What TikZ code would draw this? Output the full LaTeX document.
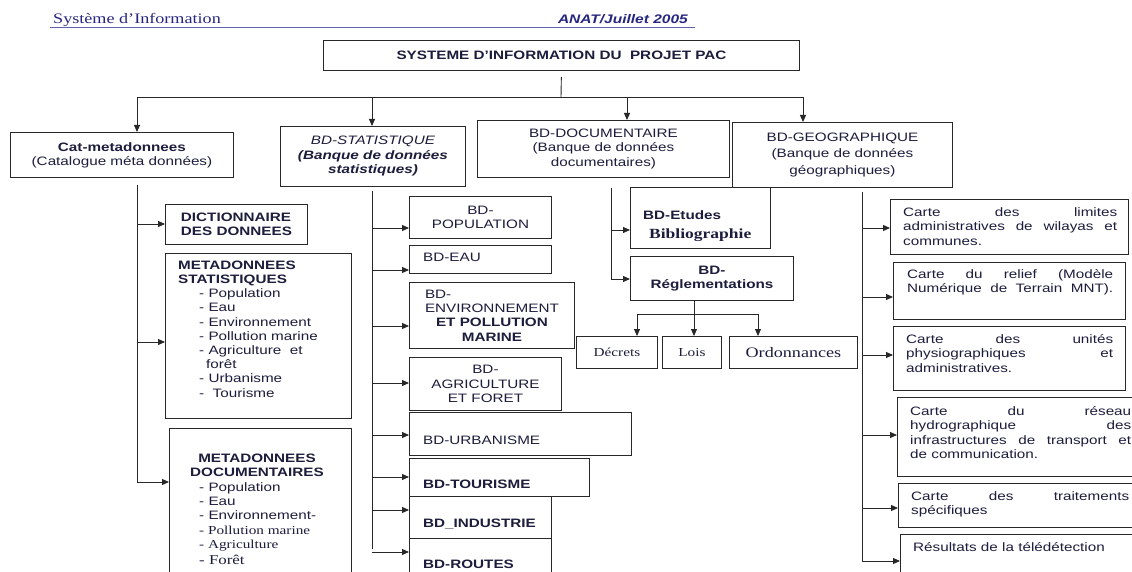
\documentclass[tikz,border=0pt]{standalone}
\usepackage{fontspec}
\setmainfont{Liberation Sans}[FakeStretch=1.25]
\newfontfamily\tms{Liberation Serif}[FakeStretch=1.25]
\usetikzlibrary{arrows.meta}
\definecolor{encre}{RGB}{28,28,60}
\definecolor{entete}{RGB}{38,38,128}
\definecolor{soulign}{RGB}{96,96,176}
\definecolor{trait}{RGB}{40,40,40}
\newcommand{\taille}{\fontsize{12.2}{14.2}\selectfont}
\tikzset{
  cadre/.style={draw=trait,line width=0.9pt,anchor=north west,inner sep=2pt,text=encre,align=center},
  txt/.style={inner sep=0pt,text=encre},
  just/.style={txt,anchor=north west,align=justify,font={\taille\hyphenpenalty=10000\tolerance=9999}},
  plein/.style={just,font={\taille\hyphenpenalty=10000\tolerance=9999\parfillskip=0pt}},
  bus/.style={draw=trait,line width=0.9pt},
  fleche/.style={bus,-{Triangle[length=7pt,width=6pt]}},
}
\begin{document}
\begin{tikzpicture}[x=1pt,y=-1pt,font=\taille]
\path[use as bounding box] (0,0) rectangle (1132,572);
\clip (0,0) rectangle (1132,572);

\node[txt,anchor=base west,text=entete,font=\tms\fontsize{14.5}{16}\selectfont] (hg) at (53,24) {Système d’Information};
\node[txt,anchor=base east,text=entete,font=\bfseries\itshape\fontsize{12.4}{14}\selectfont] (hd) at (688,24) {ANAT/Juillet 2005};
\draw[soulign,line width=1pt] (50,27.5) -- (695,27.5);

\node[cadre,minimum width=476,minimum height=30,font=\bfseries\taille] (titre) at (323,40) {SYSTEME D'INFORMATION DU\ \ PROJET PAC};
\coordinate (j0) at (561,97);
\coordinate (jc) at (137,97);
\coordinate (js) at (372,97);
\coordinate (jd) at (627,97);
\coordinate (jg) at (803,97);
\draw[bus,shorten <=6pt] (titre.south) -- (j0);
\draw[bus] (jc) -- (jg);

\node[cadre,minimum width=223,minimum height=45] (cat) at (10,132) {\textbf{Cat-metadonnees}\\(Catalogue méta données)};
\node[cadre,minimum width=185,minimum height=60,font=\itshape\fontsize{12.2}{14.5}\selectfont] (stat) at (280,126) {BD-STATISTIQUE\\\textbf{(Banque de données}\\\textbf{statistiques)}};
\node[cadre,minimum width=252,minimum height=57] (doc) at (477,120) {BD-DOCUMENTAIRE\\(Banque de données\\documentaires)};
\node[cadre,minimum width=220,minimum height=65,font=\fontsize{12.2}{16.5}\selectfont] (geo) at (732,122) {BD-GEOGRAPHIQUE\\(Banque de données\\géographiques)};
\foreach \j/\b in {jc/cat,js/stat,jd/doc,jg/geo}
  \draw[fleche] (\j) -- (\j |- \b.north);

% catalogue
\coordinate (c0) at (137,185);
\coordinate (c1) at (137,483);
\draw[bus] (c0) -- (c1);
\node[cadre,minimum width=142,minimum height=40,align=left,font=\bfseries\taille] (dict) at (165,204) {DICTIONNAIRE\\DES DONNEES};
\node[cadre,minimum width=186,minimum height=165] (metst) at (165,253) {};
\node[txt,anchor=north west,align=left] (metst-t) at (178,260.5) {\textbf{METADONNEES}\\\textbf{STATISTIQUES}\\
  \hspace*{21pt}- Population\\\hspace*{21pt}- Eau\\\hspace*{21pt}- Environnement\\\hspace*{21pt}- Pollution marine\\
  \hspace*{21pt}- Agriculture\ \ et\\\hspace*{28pt}forêt\\\hspace*{21pt}- Urbanisme\\\hspace*{21pt}-\ \ Tourisme};
\node[cadre,minimum width=182,minimum height=170] (metdoc) at (169,428) {};
\node[txt,anchor=north,align=center,font=\bfseries\taille] (metdoc-h) at (257,453.5) {METADONNEES\\DOCUMENTAIRES};
\node[txt,anchor=north west,align=left] (metdoc-t) at (199,482.5) {- Population\\- Eau\\- Environnement-\\
  {\tms - Pollution marine}\\{\tms - Agriculture}\\[1.5pt]{\tms\fontsize{13.5}{15}\selectfont - Forêt}};
\foreach \b/\yy in {dict/224,metst/342,metdoc/482} {
  \coordinate (cb) at (137,\yy);
  \draw[fleche] (cb) -- (cb -| \b.west);
}

% statistique
\coordinate (s0) at (372,191);
\coordinate (s1) at (372,549);
\draw[bus] (s0) -- (s1);
\node[cadre,minimum width=142,minimum height=42] (pop) at (409,196) {BD-\\POPULATION};
\node[cadre,minimum width=142,minimum height=28] (eau) at (409,245) {};
\node[txt,anchor=base west] (eau-t) at (423,261.4) {BD-EAU};
\node[cadre,minimum width=165,minimum height=66] (env) at (409,282) {\rlap{BD-}\phantom{ENVIRONNEMENT}\\ENVIRONNEMENT\\\textbf{ET POLLUTION}\\\textbf{MARINE}};
\node[cadre,minimum width=152,minimum height=53] (agri) at (409,357) {BD-\\AGRICULTURE\\ET FORET};
\node[cadre,minimum width=222,minimum height=43] (urb) at (409,412) {};
\node[txt,anchor=base west] (urb-t) at (423,444.4) {BD-URBANISME};
\node[cadre,minimum width=180,minimum height=38] (tour) at (409,458) {};
\node[txt,anchor=base west,font=\bfseries\taille] (tour-t) at (423,488.4) {BD-TOURISME};
\node[cadre,minimum width=142,minimum height=42] (ind) at (409,496) {};
\node[txt,anchor=base west,font=\bfseries\taille] (ind-t) at (423,527.4) {BD\_INDUSTRIE};
\node[cadre,minimum width=142,minimum height=60] (rout) at (409,538) {};
\node[txt,anchor=base west,font=\bfseries\taille] (rout-t) at (423,568.4) {BD-ROUTES};
\foreach \b/\yy in {pop/228,eau/270,env/326,agri/383,urb/435,tour/477,ind/510,rout/552} {
  \coordinate (sb) at (372,\yy);
  \draw[fleche] (sb) -- (sb -| \b.west);
}

% documentaire
\coordinate (d0) at (611,188);
\coordinate (d1) at (611,279);
\draw[bus] (d0) -- (d1);
\node[cadre,minimum width=140,minimum height=61] (etud) at (630,187) {};
\node[txt,anchor=base west,font=\bfseries\taille] (etud-a) at (643,219.4) {BD-Etudes};
\node[txt,anchor=base west,font=\tms\bfseries\fontsize{14}{16}\selectfont] (etud-b) at (649,238.6) {Bibliographie};
\node[cadre,minimum width=163,minimum height=44,font=\bfseries\taille] (regl) at (630,256) {BD-\\Réglementations};
\foreach \b/\yy in {etud/230,regl/279} {
  \coordinate (db) at (611,\yy);
  \draw[fleche] (db) -- (db -| \b.west);
}
\coordinate (r0) at (694,314);
\coordinate (r1) at (637,314);
\coordinate (r2) at (758,314);
\draw[bus] (regl.south -| r0) -- (r0);
\draw[bus] (r1) -- (r2);
\node[cadre,minimum width=81,minimum height=32,font=\tms\taille] (decr) at (576,336) {Décrets};
\node[cadre,minimum width=59,minimum height=32,font=\tms\taille] (lois) at (662,336) {Lois};
\node[cadre,minimum width=128,minimum height=32,font=\tms\fontsize{14.5}{16}\selectfont] (ordo) at (729,336) {Ordonnances};
\foreach \c/\b in {r1/decr,r0/lois,r2/ordo}
  \draw[fleche] (\c) -- (\c |- \b.north);

% geographique
\coordinate (g0) at (862,192);
\coordinate (g1) at (862,561);
\draw[bus] (g0) -- (g1);
\node[cadre,minimum width=238,minimum height=55] (lim) at (890,199) {};
\node[just,text width=214] (lim-t) at (903,207.6) {Carte des limites administratives de wilayas et communes.};
\node[cadre,minimum width=232,minimum height=57] (rel) at (893,262) {};
\node[plein,text width=206] (rel-t) at (907,269.6) {Carte du relief (Modèle Numérique de Terrain MNT).};
\node[cadre,minimum width=232,minimum height=64] (uni) at (893,326) {};
\node[just,text width=207] (uni-t) at (906,334.6) {Carte des unités physiographiques et administratives.};
\node[cadre,minimum width=260,minimum height=79] (hyd) at (897,397) {};
\node[just,text width=221] (hyd-t) at (910,406.6) {Carte du réseau\linebreak hydrographique des\linebreak infrastructures de transport et\linebreak de communication.};
\node[cadre,minimum width=260,minimum height=44] (trt) at (898,483) {};
\node[just,text width=218] (trt-t) at (911,491.6) {Carte des traitements spécifiques};
\node[cadre,minimum width=260,minimum height=60] (tel) at (900,534) {};
\node[txt,anchor=base west] (tel-t) at (913,551.4) {Résultats de la télédétection};
\foreach \b/\yy in {lim/228,rel/297,uni/355,hyd/435,trt/508,tel/561} {
  \coordinate (gb) at (862,\yy);
  \draw[fleche] (gb) -- (gb -| \b.west);
}
\end{tikzpicture}
\end{document}
